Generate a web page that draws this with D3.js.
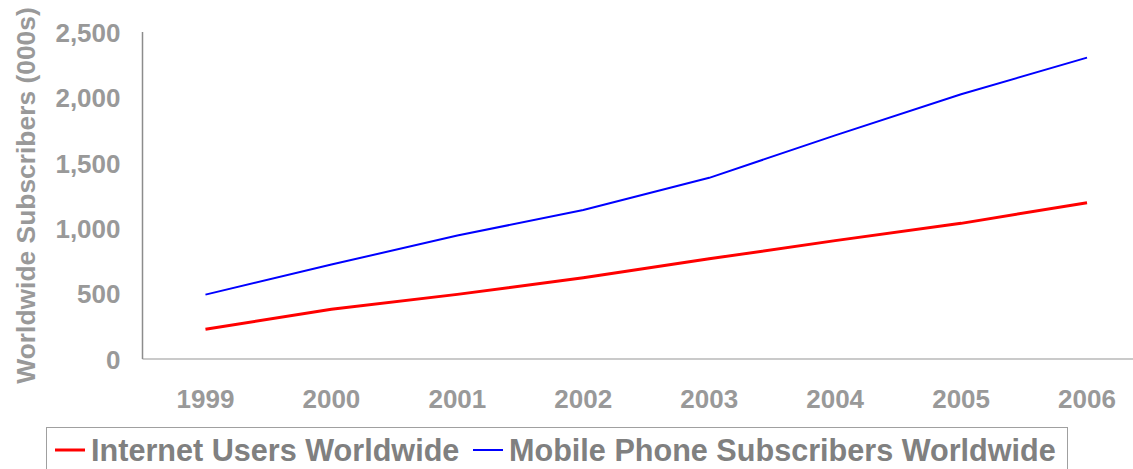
<!DOCTYPE html>
<html>
<head>
<meta charset="utf-8">
<script src="https://cdn.jsdelivr.net/npm/d3@7"></script>
<style>
  html, body { margin: 0; padding: 0; background: #fff; }
  svg { display: block; font-family: "Liberation Sans", Arial, sans-serif; font-weight: bold; }
</style>
</head>
<body>
<svg id="chart" width="1133" height="469"></svg>
<script>
const years = ["1999", "2000", "2001", "2002", "2003", "2004", "2005", "2006"];
const internetUsers = [227, 380, 494, 621, 766, 905, 1037, 1195];
const mobileSubscribers = [492, 722, 944, 1139, 1385, 1710, 2024, 2304];
const yTicks = [0, 500, 1000, 1500, 2000, 2500];
const seriesNames = ["Internet Users Worldwide", "Mobile Phone Subscribers Worldwide"];
const seriesColors = ["#FF0000", "#0000FF"];

(function () {
const svg = d3.select("#chart");
const mLeft = 142.5, mRight = 1150, mTop = 32, mBottom = 359;

const x = d3.scaleBand().domain(years).range([mLeft, mRight]).padding(0);
const y = d3.scaleLinear().domain([0, 2500]).range([mBottom, mTop]);

// x axis
const xAxis = svg.append("g")
  .attr("transform", `translate(0,${mBottom})`)
  .call(d3.axisBottom(x).tickSize(0).tickPadding(30.5).tickSizeOuter(0));
xAxis.select(".domain").remove();
xAxis.selectAll("text").attr("fill", "#999999").style("font-size", "26px").style("font-family", "Liberation Sans, Arial, sans-serif").style("font-weight", "bold");
svg.append("line").attr("x1", mLeft).attr("x2", 1133).attr("y1", mBottom).attr("y2", mBottom)
  .attr("stroke", "#b8b8b8").attr("stroke-width", 1.5);

// y axis
const yAxis = svg.append("g")
  .attr("transform", `translate(${mLeft},0)`)
  .call(d3.axisLeft(y).tickValues(yTicks).tickFormat(d3.format(",")).tickSize(0).tickPadding(22));
yAxis.select(".domain").remove();
yAxis.selectAll("text").attr("fill", "#999999").attr("dy", "0.36em").style("font-size", "26px").style("font-family", "Liberation Sans, Arial, sans-serif").style("font-weight", "bold");
svg.append("line").attr("x1", mLeft).attr("x2", mLeft).attr("y1", mTop).attr("y2", mBottom)
  .attr("stroke", "#8c8c8c").attr("stroke-width", 1.5);

// y label
svg.append("text")
  .attr("transform", `translate(35,${(mTop + mBottom) / 2}) rotate(-90)`)
  .attr("text-anchor", "middle")
  .attr("fill", "#999999")
  .style("font-size", "26.4px")
  .text("Worldwide Subscribers (000s)");

// lines
const line = d3.line()
  .x((d, i) => x(years[i]) + x.bandwidth() / 2)
  .y(d => y(d));

svg.append("path").datum(mobileSubscribers)
  .attr("d", line).attr("fill", "none").attr("stroke", seriesColors[1]).attr("stroke-width", 2);
svg.append("path").datum(internetUsers)
  .attr("d", line).attr("fill", "none").attr("stroke", seriesColors[0]).attr("stroke-width", 3);

// legend
svg.append("rect").attr("x", 46.5).attr("y", 427.5).attr("width", 1021).attr("height", 60)
  .attr("fill", "#fff").attr("stroke", "#a0a0a0").attr("stroke-width", 1);
const legendX = [55, 473];
const legendW = [3, 2];
seriesNames.forEach((name, i) => {
  svg.append("line").attr("x1", legendX[i]).attr("x2", legendX[i] + 30)
    .attr("y1", 450).attr("y2", 450)
    .attr("stroke", seriesColors[i]).attr("stroke-width", legendW[i]);
  svg.append("text").attr("x", legendX[i] + 36).attr("y", 461)
    .attr("fill", "#808080").style("font-size", "30.6px").text(name);
});
})();
</script>
</body>
</html>
